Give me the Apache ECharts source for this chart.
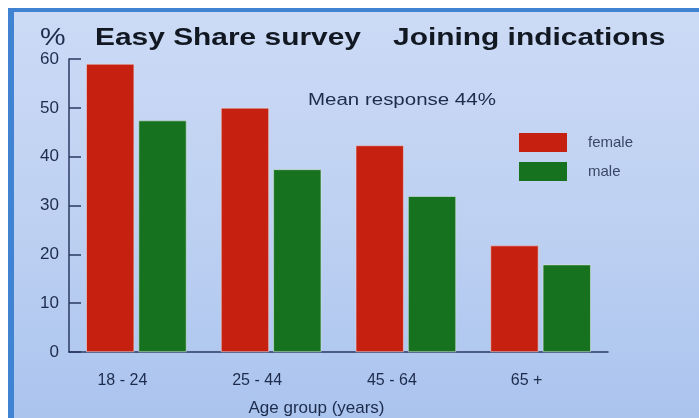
<!DOCTYPE html>
<html>
<head>
<meta charset="utf-8">
<script src="https://cdn.jsdelivr.net/npm/echarts@6/dist/echarts.min.js"></script>
<style>
html, body { margin: 0; padding: 0; background: #ffffff; }
.frame {
	position: absolute; left: 8px; top: 8px; width: 691px; height: 410px;
	box-sizing: border-box;
	border-top: 4px solid #3f83d2; border-left: 6px solid #3f83d2;
	background: linear-gradient(180deg, #ccdaf5 0%, #bed1f2 50%, #abc4ee 100%);
}
#chart { position: absolute; left: 0; top: 0; width: 699px; height: 418px; }
</style>
</head>
<body>
<div class="frame"></div>
<div id="chart"></div>
<script>
var categories = ["18 - 24", "25 - 44", "45 - 64", "65 +"]
var female = [59, 50, 42.3, 21.8]
var male = [47.4, 37.4, 31.9, 17.9]
var yTicks = [0, 10, 20, 30, 40, 50, 60]

var ink = "#1d2b4c"
var myChart = echarts.init(document.getElementById("chart"))
myChart.setOption({
	backgroundColor: "transparent",
	animation: false,
	textStyle: { fontFamily: "Liberation Sans, Arial, sans-serif" },
	graphic: [
		{ type: "text", left: 40, top: 27, scaleX: 1.25,
			style: { text: "%", fontSize: 23, fill: ink, fontFamily: "Liberation Sans" } },
		{ type: "text", left: 95, top: 27, scaleX: 1.3,
			style: { text: "Easy Share survey", fontSize: 23, fontWeight: "bold", fill: "#111822", fontFamily: "Liberation Sans" } },
		{ type: "text", left: 393, top: 27, scaleX: 1.3,
			style: { text: "Joining indications", fontSize: 23, fontWeight: "bold", fill: "#111822", fontFamily: "Liberation Sans" } },
		{ type: "text", left: 308, top: 93, scaleX: 1.28,
			style: { text: "Mean response 44%", fontSize: 16, fill: ink, fontFamily: "Liberation Sans" } }
	],
	legend: {
		orient: "vertical",
		left: 519, top: 133, padding: 0,
		itemWidth: 48, itemHeight: 19, itemGap: 10,
		icon: "rect",
		itemStyle: { borderWidth: 0 },
		textStyle: { color: "#3a4868", fontSize: 15, padding: [0, 0, 0, 16] },
		data: ["female", "male"]
	},
	grid: { left: 69, right: 91, top: 59, bottom: 66, outerBoundsMode: "none", containLabel: false },
	xAxis: {
		type: "category",
		data: categories,
		name: "Age group (years)",
		nameLocation: "middle",
		nameGap: 48,
		nameTextStyle: { color: ink, fontSize: 17, padding: [0, 44, 0, 0] },
		axisLine: { lineStyle: { color: "#2a3a62", width: 1.5 } },
		axisTick: { inside: true, length: 5, lineStyle: { color: "#2a3a62", width: 1.5 } },
		axisLabel: { color: ink, fontSize: 16, margin: 21, padding: [0, 28, 0, 0] }
	},
	yAxis: {
		type: "value",
		min: yTicks[0], max: yTicks[yTicks.length - 1], interval: 10,
		splitLine: { show: false },
		axisLine: { show: true, lineStyle: { color: "#2a3a62", width: 1.5 } },
		axisTick: { show: true, inside: true, length: 12, lineStyle: { color: "#2a3a62", width: 1.5 } },
		axisLabel: { color: ink, fontSize: 17, margin: 10 }
	},
	series: [
		{
			name: "female", type: "bar", data: female,
			barWidth: 48, barGap: "9%",
			itemStyle: { color: "#c62010", borderColor: "#e8d8dc", borderWidth: 0.6 }
		},
		{
			name: "male", type: "bar", data: male,
			barWidth: 48, barGap: "9%",
			itemStyle: { color: "#17721f", borderColor: "#d8e4dc", borderWidth: 0.6 }
		}
	]
})
</script>
</body>
</html>
